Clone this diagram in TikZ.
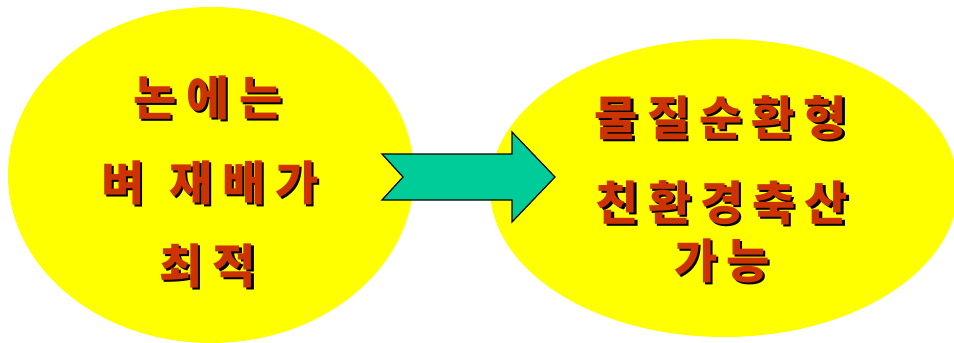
\documentclass[tikz,border=0pt]{standalone}
\usepackage{fontspec}
\usetikzlibrary{shapes.geometric}
\newfontfamily\kr{Noto Sans CJK KR}
\definecolor{blobyellow}{RGB}{255,255,0}
\definecolor{txtred}{RGB}{204,51,0}
\definecolor{arrowgreen}{RGB}{0,204,153}
\newcommand{\gp}{\kern10pt}
\newcommand{\gq}{\kern9pt}
\newcommand{\shtext}[1]{\leavevmode\rlap{\kern2.2pt\raisebox{-2.2pt}{\color{black}#1}}{\color{txtred}#1}}
\tikzset{
  blob/.style={ellipse, fill=blobyellow, draw=none, inner sep=0pt},
  label/.style={inner sep=0pt, font=\kr\bfseries\fontsize{47}{56}\selectfont},
  blockarrow/.style={fill=arrowgreen, draw=black, line width=1.2pt, line join=miter}
}
\begin{document}
\begin{tikzpicture}[x=1pt,y=-1pt]
\useasboundingbox (0,0) rectangle (954,343);
\clip (0,0) rectangle (954,343);
\fill[white] (0,0) rectangle (954,343);
\node[blob, minimum width=406pt, minimum height=336pt] (L) at (211,175) {};
\node[blob, minimum width=468pt, minimum height=298pt] (R) at (724,188) {};
% block arrow
\coordinate (a1) at (382,154);
\coordinate (a2) at (512,154);
\coordinate (a3) at (512,132);
\coordinate (a4) at (555,177);
\coordinate (a5) at (512,222);
\coordinate (a6) at (512,200);
\coordinate (a7) at (382,200);
\coordinate (a8) at (403,177);
\draw[blockarrow] (a1) -- (a2) -- (a3) -- (a4) -- (a5) -- (a6) -- (a7) -- (a8) -- cycle;
% left texts
\node[label] (l1) at (208,99) {\shtext{논\gp 에\gp 는}};
\node[label] (l2) at (210,184) {\shtext{벼\kern25pt 재\gp 배\gp 가}};
\node[label] (l3) at (208,267) {\shtext{최\gp 적}};
% right texts
\node[label] (r1) at (721,119) {\shtext{물\gq 질\gq 순\gq 환\gq 형}};
\node[label] (r2) at (722,204) {\shtext{친\gq 환\gq 경\gq 축\gq 산}};
\node[label] (r3) at (722,262) {\shtext{가\gq 능}};
\end{tikzpicture}
\end{document}
